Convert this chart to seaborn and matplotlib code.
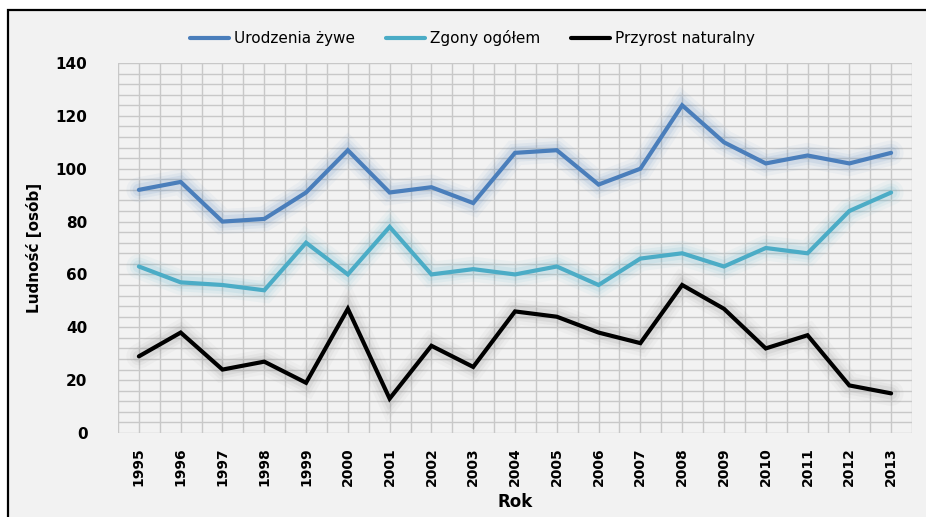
import matplotlib
matplotlib.use("Agg")
import matplotlib.pyplot as plt
import matplotlib.patheffects as pe
from matplotlib.patches import Rectangle
from matplotlib.ticker import MultipleLocator
import seaborn as sns
import pandas as pd

# Data
years = list(range(1995, 2014))
urodzenia = [92, 95, 80, 81, 91, 107, 91, 93, 87, 106, 107, 94, 100, 124, 110, 102, 105, 102, 106]
zgony = [63, 57, 56, 54, 72, 60, 78, 60, 62, 60, 63, 56, 66, 68, 63, 70, 68, 84, 91]
przyrost = [29, 38, 24, 27, 19, 47, 13, 33, 25, 46, 44, 38, 34, 56, 47, 32, 37, 18, 15]

series_names = ["Urodzenia żywe", "Zgony ogółem", "Przyrost naturalny"]
colors = ["#4A7EBB", "#4BACC6", "#000000"]

df = pd.DataFrame({"Rok": years,
                   series_names[0]: urodzenia,
                   series_names[1]: zgony,
                   series_names[2]: przyrost})
long_df = df.melt(id_vars="Rok", var_name="Seria", value_name="Ludność")

sns.set_style("white")
plt.rcParams["font.family"] = ["DejaVu Sans"]
plt.rcParams["text.color"] = "black"
plt.rcParams["axes.labelcolor"] = "black"
plt.rcParams["xtick.color"] = "black"
plt.rcParams["ytick.color"] = "black"

BG = "#F2F2F2"
fig = plt.figure(figsize=(9.26, 5.17), dpi=100, facecolor="white")

# outer panel with frame (left and top edges visible)
frame = Rectangle((8 / 926, -0.01), 1.0, 1 - 10 / 517 + 0.01, transform=fig.transFigure,
                  facecolor=BG, edgecolor="black", linewidth=1.6, zorder=-10)
fig.patches.append(frame)

ax = fig.add_axes([118 / 926, 1 - 433 / 517, (912 - 118) / 926, (433 - 63) / 517])
ax.set_facecolor(BG)

sns.lineplot(data=long_df, x="Rok", y="Ludność", hue="Seria",
             palette=dict(zip(series_names, colors)), linewidth=3,
             ax=ax, legend=False)

# soft glow beneath each line
for line, c in zip(ax.get_lines(), colors):
    glow = "#7F7F7F" if c == "#000000" else c
    line.set_path_effects([
        pe.Stroke(linewidth=18, foreground=glow, alpha=0.05),
        pe.Stroke(linewidth=13, foreground=glow, alpha=0.07),
        pe.Stroke(linewidth=9, foreground=glow, alpha=0.10),
        pe.Normal(),
    ])
    line.set_solid_capstyle("round")
    line.set_solid_joinstyle("miter")
    line.set_zorder(3)

ax.set_xlim(years[0] - 0.5, years[-1] + 0.5)
ax.set_ylim(0, 140)
ax.set_xticks(years)
ax.set_xticklabels([str(y) for y in years], rotation=90, fontsize=10, fontweight="bold")
ax.xaxis.set_minor_locator(MultipleLocator(0.5))
ax.yaxis.set_major_locator(MultipleLocator(20))
ax.yaxis.set_minor_locator(MultipleLocator(4))
for lbl in ax.get_yticklabels():
    lbl.set_fontsize(11)
    lbl.set_fontweight("bold")

ax.grid(True, which="both", axis="both", color="#C8C8C8", linewidth=1.0)
ax.set_axisbelow(True)
ax.tick_params(axis="both", which="both", length=0)
ax.tick_params(axis="x", pad=10)
ax.tick_params(axis="y", pad=22)
for s in ax.spines.values():
    s.set_visible(False)

ax.set_xlabel("Rok", fontsize=12, fontweight="bold", labelpad=5)
ax.set_ylabel("Ludność [osób]", fontsize=11, fontweight="bold", labelpad=10)

handles = [plt.Line2D([], [], color=c, linewidth=3) for c in colors]
fig.legend(handles, series_names, loc="center", bbox_to_anchor=(0.51, 1 - 38 / 517),
           ncol=3, frameon=False, fontsize=11, handlelength=2.6, handletextpad=0.3,
           columnspacing=2.0)

fig.savefig("out.png", dpi=100, facecolor="white")
plt.close(fig)
